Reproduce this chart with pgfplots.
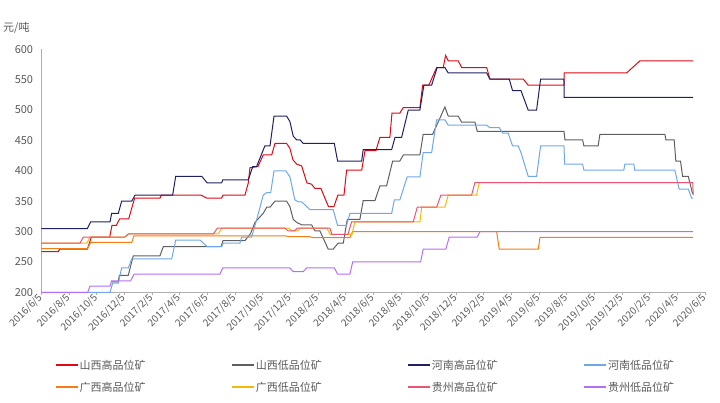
\documentclass[border=0pt]{standalone}
\usepackage{pgfplots}
\pgfplotsset{compat=1.18}
\usepackage{fontspec}
\setmainfont{Noto Sans CJK SC}
\definecolor{c1}{RGB}{225,10,20}
\definecolor{c2}{RGB}{95,95,95}
\definecolor{c3}{RGB}{32,32,100}
\definecolor{c4}{RGB}{110,168,235}
\definecolor{c5}{RGB}{245,125,20}
\definecolor{c6}{RGB}{245,185,0}
\definecolor{c7}{RGB}{232,85,115}
\definecolor{c8}{RGB}{180,110,245}
\definecolor{txt}{RGB}{89,89,89}
\definecolor{axc}{RGB}{175,175,175}
\begin{document}
\begin{tikzpicture}
\path[use as bounding box] (0pt,0pt) rectangle (720pt,403pt);
\node[anchor=west, text=txt, font=\fontsize{11}{12}\selectfont, inner sep=0pt] at (3pt,375.5pt) {元/吨};
\begin{axis}[
  at={(41.3pt,110.7pt)}, anchor=south west,
  scale only axis, width=663.7pt, height=243pt,
  xmin=0, xmax=48, ymin=200, ymax=600,
  axis x line*=bottom, axis y line*=left,
  axis line style={-, draw=axc, line width=0.8pt},
  xtick={0,2,...,48},
  xticklabels={2016/6/5,2016/8/5,2016/10/5,2016/12/5,2017/2/5,2017/4/5,2017/6/5,2017/8/5,2017/10/5,2017/12/5,2018/2/5,2018/4/5,2018/6/5,2018/8/5,2018/10/5,2018/12/5,2019/2/5,2019/4/5,2019/6/5,2019/8/5,2019/10/5,2019/12/5,2020/2/5,2020/4/5,2020/6/5},
  ytick={200,250,...,600},
  tick align=outside, major tick length=3pt,
  tick style={draw=axc, line width=0.6pt},
  ytick style={draw=none},
  /pgf/number format/assume math mode=true,
  x tick label style={rotate=45, anchor=east, text=txt, font=\fontsize{10}{12}\selectfont, inner sep=1pt},
  y tick label style={text=txt, font=\fontsize{11}{13}\selectfont, inner sep=0pt, xshift=-5pt},
  every axis plot/.append style={line width=1pt, no markers},
  legend columns=4,
  legend cell align=left,
  legend image code/.code={\draw[#1, line width=1.6pt] (0pt,0pt) -- (22pt,0pt);},
  legend style={draw=none, fill=none, at={(axis description cs:0.016,-0.265)}, anchor=north west,
    font=\fontsize{11}{13}\selectfont, text=txt, row sep=9pt,
    nodes={inner sep=1pt},
    /tikz/every even column/.append style={column sep=84.5pt}},
]
% 山西高品位矿
\addplot[color=c1] coordinates {(0.00,267)(1.23,267)(1.33,271)(3.33,271)(3.62,291)(4.95,291)(5.11,310)(5.42,310)(5.67,321)(6.32,321)(6.75,355)(8.58,355)(8.68,360)(11.55,360)(11.96,355)(13.04,355)(13.14,360)(14.73,360)(14.97,380)(15.09,405)(15.67,407)(16.05,426)(16.66,426)(16.90,445)(17.74,445)(17.98,437)(18.20,418)(18.47,411)(18.83,408)(19.21,380)(19.54,378)(19.79,371)(20.22,371)(20.77,341)(21.16,341)(21.45,360)(21.89,360)(22.08,401)(23.17,401)(23.41,433)(24.20,433)(24.49,455)(25.21,455)(25.36,495)(25.93,495)(26.18,504)(27.38,504)(27.58,541)(28.03,541)(28.59,570)(29.07,570)(29.24,590)(29.43,581)(30.15,581)(30.40,570)(32.21,570)(32.44,551)(34.85,551)(35.21,541)(37.80,541)(37.82,561)(42.33,561)(43.29,581)(47.14,581)};
\addlegendentry{山西高品位矿}
% 山西低品位矿
\addplot[color=c2] coordinates {(5.09,217)(5.57,217)(5.64,228)(6.29,228)(6.65,260)(8.58,260)(8.82,275)(13.00,275)(13.14,285)(14.73,285)(15.14,297)(15.45,315)(16.05,330)(16.30,340)(16.54,340)(16.90,350)(17.74,350)(17.98,341)(18.22,320)(18.47,315)(18.83,311)(19.55,311)(19.79,301)(20.15,301)(20.75,271)(21.11,271)(21.47,281)(21.84,281)(22.13,320)(23.04,320)(23.28,351)(24.13,351)(24.49,375)(24.97,375)(25.41,416)(25.93,416)(26.18,426)(27.38,426)(27.62,460)(28.30,460)(29.19,505)(29.43,490)(30.15,490)(30.40,480)(31.36,480)(31.53,465)(37.80,465)(37.87,451)(39.15,451)(39.24,441)(40.27,441)(40.40,460)(45.10,460)(45.17,451)(45.77,451)(45.89,416)(46.23,416)(46.38,391)(46.79,391)(47.07,365)(47.14,362)};
\addlegendentry{山西低品位矿}
% 河南高品位矿
\addplot[color=c3] coordinates {(0.00,305)(3.33,305)(3.57,316)(4.97,316)(5.09,330)(5.57,330)(5.81,350)(6.54,350)(6.78,360)(9.50,360)(9.72,391)(11.60,391)(12.00,380)(13.04,380)(13.12,385)(14.97,385)(15.29,407)(15.57,407)(16.17,441)(16.54,441)(16.83,490)(17.74,490)(17.98,481)(18.22,457)(18.47,451)(18.71,451)(18.94,445)(21.19,445)(21.43,416)(23.17,416)(23.28,435)(25.34,435)(25.58,455)(26.06,455)(26.54,500)(27.38,500)(27.67,541)(28.23,541)(28.63,570)(29.19,570)(29.43,561)(32.21,561)(32.44,551)(33.84,551)(34.08,532)(34.69,532)(35.21,500)(35.82,500)(36.11,551)(37.80,551)(37.82,521)(47.14,521)};
\addlegendentry{河南高品位矿}
% 河南低品位矿
\addplot[color=c4] coordinates {(0.00,200)(4.97,200)(5.16,215)(5.57,215)(5.81,240)(6.29,240)(6.54,255)(9.43,255)(9.72,286)(11.48,286)(12.00,275)(13.04,275)(13.16,281)(14.37,281)(14.49,291)(15.21,291)(15.57,319)(16.05,360)(16.30,364)(16.59,364)(16.83,400)(17.69,400)(17.98,390)(18.34,352)(18.58,349)(18.83,349)(19.43,336)(21.11,336)(21.43,310)(22.08,310)(22.32,330)(25.34,330)(25.53,352)(25.93,352)(26.46,390)(27.38,390)(27.62,430)(28.23,430)(28.59,484)(29.19,484)(29.43,475)(32.21,475)(32.44,471)(33.12,471)(33.36,462)(33.77,462)(34.08,441)(34.49,441)(34.69,430)(35.21,391)(35.82,391)(36.11,441)(37.80,441)(37.85,411)(39.15,411)(39.24,401)(42.13,401)(42.20,411)(42.86,411)(42.91,401)(45.82,401)(46.13,370)(46.79,370)(47.03,355)(47.14,355)};
\addlegendentry{河南低品位矿}
% 广西高品位矿
\addplot[color=c5] coordinates {(0.00,272)(3.33,272)(3.57,282)(6.54,282)(6.70,293)(17.62,293)(17.98,291.5)(19.43,291.5)(19.65,290)(22.32,290)(22.52,300)(32.93,300)(33.12,271)(35.94,271)(36.07,290.6)(47.14,290.6)};
\addlegendentry{广西高品位矿}
% 广西低品位矿
\addplot[color=c6] coordinates {(0.00,281)(3.30,281)(3.52,291)(6.05,291)(6.29,296)(12.80,296)(13.04,305.5)(17.91,305.5)(18.13,301)(18.55,301)(18.69,305.5)(20.66,305.5)(20.88,295.5)(22.47,295.5)(22.68,316)(27.38,316)(27.51,340)(29.19,340)(29.43,360)(31.48,360)(31.67,380.5)(47.14,380.5)};
\addlegendentry{广西低品位矿}
% 贵州高品位矿
\addplot[color=c7] coordinates {(0.00,281)(2.80,281)(3.04,291)(6.05,291)(6.29,296)(12.44,296)(12.73,305.5)(17.62,305.5)(17.86,301)(18.29,301)(18.51,305.5)(20.87,305.5)(21.02,295.5)(22.18,295.5)(22.44,316)(26.90,316)(27.19,340)(28.59,340)(28.90,360)(31.12,360)(31.36,380.5)(47.12,380.5)(47.14,360)};
\addlegendentry{贵州高品位矿}
% 贵州低品位矿
\addplot[color=c8] coordinates {(0.00,200)(3.36,200)(3.52,210)(4.97,210)(5.09,219)(6.46,219)(6.72,230)(12.92,230)(13.12,240)(17.98,240)(18.22,234)(18.94,234)(19.19,240)(21.19,240)(21.43,230)(22.32,230)(22.52,250)(27.43,250)(27.62,271)(29.26,271)(29.50,291)(31.53,291)(31.72,300)(47.14,300)};
\addlegendentry{贵州低品位矿}
\end{axis}
\end{tikzpicture}
\end{document}
